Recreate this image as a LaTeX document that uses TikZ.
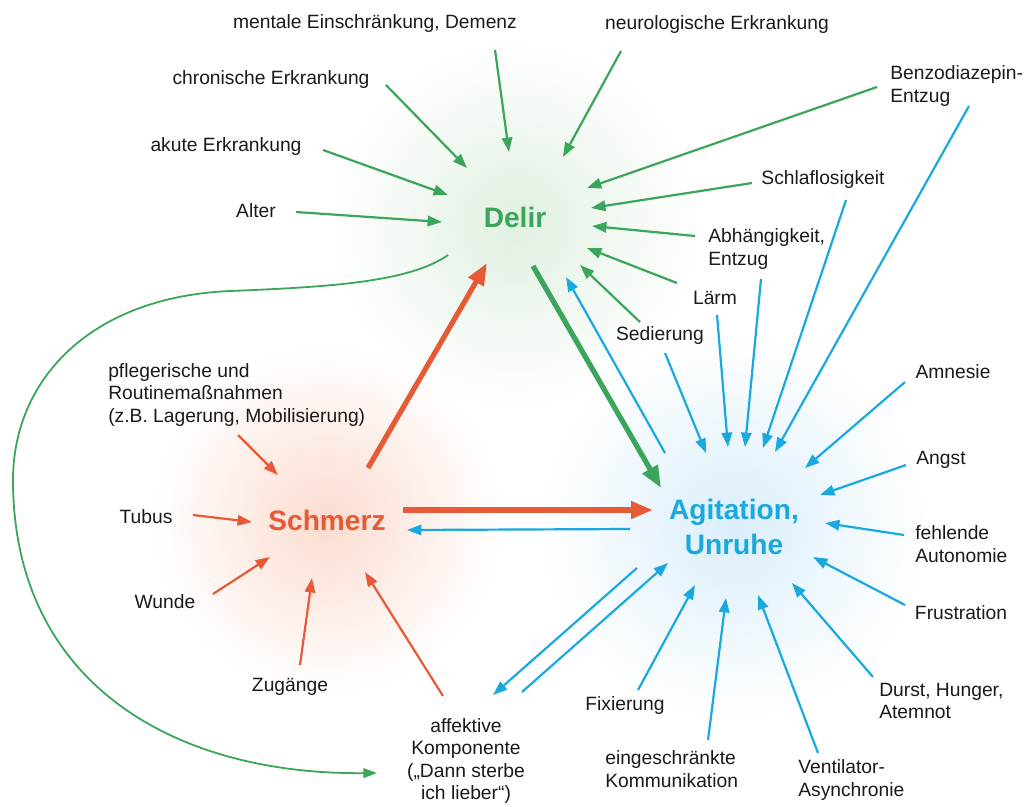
\documentclass[tikz,border=0pt]{standalone}
\usepackage{fontspec}
\setmainfont{Liberation Sans}
\usetikzlibrary{arrows.meta, calc, fadings}
\definecolor{delirGreen}{HTML}{3AA55B}
\definecolor{painRed}{HTML}{E65B36}
\definecolor{agiBlue}{HTML}{1AA9DF}
\definecolor{labelGrey}{HTML}{1A1A1A}
\definecolor{glowGreen}{HTML}{E0F0E1}
\definecolor{glowRed}{HTML}{FBDCD0}
\definecolor{glowBlue}{HTML}{DAEEFA}
\tikzfading[name=glowFade, inner color=transparent!0, outer color=transparent!100]
\tikzset{
    % Texts
    causeText/.style={font=\fontsize{13.7}{16}\selectfont, text=labelGrey, inner sep=0pt},
    hubText/.style={font=\bfseries\fontsize{20}{25}\selectfont, inner sep=0pt},
    glow/.style={fill=#1, path fading=glowFade},
    % Connectors
    thinTip/.style={line width=0.55mm, -{Triangle[length=3.6mm,width=2.6mm]}},
    heavyTip/.style={line width=1.3mm, -{Triangle[length=5.5mm,width=4.2mm]}},
    gin/.style={draw=delirGreen, thinTip},
    rin/.style={draw=painRed, thinTip},
    bin/.style={draw=agiBlue, thinTip}
}
\begin{document}
\begin{tikzpicture}[x=0.25mm, y=-0.25mm]
    \useasboundingbox (0,0) rectangle (1024,806);

    % Glows behind the three hubs
    \fill[glow=glowGreen] (515,225) circle (185);
    \fill[glow=glowRed] (327,520) circle (175);
    \fill[glow=glowBlue] (734,527) circle (195);

    % Hubs
    \node[hubText, text=delirGreen] (delir) at (515,217) {Delir};
    \node[hubText, text=painRed] (schmerz) at (327,520) {Schmerz};
    \node[hubText, text=agiBlue, align=center] (agit) at (734,527) {Agitation,\\Unruhe};

    % Causes of Delir
    \node[causeText] (ment) at (375,24) {mentale Einschränkung, Demenz};
    \node[causeText] (neuro) at (717,25) {neurologische Erkrankung};
    \node[causeText] (chron) at (271,80) {chronische Erkrankung};
    \node[causeText] (akute) at (226,147) {akute Erkrankung};
    \node[causeText] (alter) at (256,211) {Alter};
    \node[causeText, align=left, anchor=west] (benzo) at (890,86) {Benzodiazepin-\\Entzug};
    \node[causeText] (schlaf) at (823,180) {Schlaflosigkeit};
    \node[causeText, align=left, anchor=west] (abh) at (708,249) {Abhängigkeit,\\Entzug};
    \node[causeText] (laerm) at (715,298) {Lärm};
    \node[causeText] (sed) at (660,336) {Sedierung};

    % Causes of Agitation
    \node[causeText] (amn) at (953,372) {Amnesie};
    \node[causeText] (angst) at (941,460) {Angst};
    \node[causeText, align=left, anchor=west] (fehl) at (915,544) {fehlende\\Autonomie};
    \node[causeText] (frust) at (961,613) {Frustration};
    \node[causeText, align=left, anchor=west] (durst) at (879,701) {Durst, Hunger,\\Atemnot};
    \node[causeText, align=left, anchor=west] (vent) at (798,780) {Ventilator-\\Asynchronie};
    \node[causeText, align=left, anchor=west] (eing) at (605,769) {eingeschränkte\\Kommunikation};
    \node[causeText] (fix) at (625,706) {Fixierung};
    \node[causeText, align=center] (aff) at (466,761) {affektive\\Komponente\\(„Dann sterbe\\ich lieber“)};

    % Causes of Schmerz
    \node[causeText, align=left, anchor=west] (pfleg) at (108,395) {pflegerische und\\Routinemaßnahmen\\(z.B. Lagerung, Mobilisierung)};
    \node[causeText] (tubus) at (146,517) {Tubus};
    \node[causeText] (wunde) at (165,602) {Wunde};
    \node[causeText] (zug) at (290,687) {Zugänge};

    % Green arrows into Delir
    \foreach \from/\tx/\ty/\hx/\hy in {ment/120/26/-6/-65, neuro/-96/26/48/-60, chron/115/5/-48/-49,
        akute/97/3/-67/-22, alter/40/1/-73/5, benzo.west/-13/1/72/-29, schlaf/-71/3/76/-9,
        abh.west/-13/-13/77/9, laerm/-38/-15/72/31, sed/-20/-14/65/48}
        \draw[gin] ($(\from)+(\tx,\ty)$) -- ($(delir)+(\hx,\hy)$);

    % Blue arrows into Agitation
    \foreach \from/\tx/\ty/\hx/\hy in {sed/5/17/-28/-74, laerm/2/17/-6/-80, abh.west/53/30/11/-80,
        schlaf/23/20/29/-79, benzo.west/79/20/41/-75, amn/-48/10/71/-59, angst/-35/5/86/-32,
        fehl.west/-11/-9/91/-4, frust/-56/-8/79/30, durst.west/-6/-24/58/56, vent.west/20/-27/24/68,
        eing.west/103/-29/-8/71, fix/13/-16/-39/58, aff/56/-69/-66/36}
        \draw[bin] ($(\from)+(\tx,\ty)$) -- ($(agit)+(\hx,\hy)$);

    % Red arrows into Schmerz
    \foreach \from/\tx/\ty/\hx/\hy in {pfleg.west/130/40/-49/-45, tubus/47/-2/-75/2,
        wunde/48/-8/-57/37, zug/10/-22/-15/58, aff/-23/-65/38/52}
        \draw[rin] ($(\from)+(\tx,\ty)$) -- ($(schmerz)+(\hx,\hy)$);

    % Links between the hubs
    \draw[draw=painRed, heavyTip] ($(schmerz)+(41,-52)$) -- ($(delir)+(-28,46)$);
    \draw[draw=painRed, heavyTip] ($(schmerz)+(76,-10)$) -- ($(agit)+(-81,-17)$);
    \draw[draw=delirGreen, heavyTip] ($(delir)+(18,49)$) -- ($(agit)+(-73,-39)$);
    \draw[bin] ($(agit)+(-69,-74)$) -- ($(delir)+(51,60)$);
    \draw[bin] ($(agit)+(-104,2)$) -- ($(schmerz)+(80,10)$);
    \draw[bin] ($(agit)+(-97,41)$) -- ($(aff)+(27,-66)$);

    % Delir feeds the affective part
    \draw[draw=delirGreen, line width=0.45mm, -{Triangle[length=3.4mm,width=2.4mm]}]
        ($(delir)+(-67,38)$) .. controls (410,282) and (330,287) .. (230,291)
        .. controls (90,297) and (13,380) .. (13,480)
        .. controls (13,680) and (170,775) .. ($(aff)+(-89,12)$);
\end{tikzpicture}
\end{document}
